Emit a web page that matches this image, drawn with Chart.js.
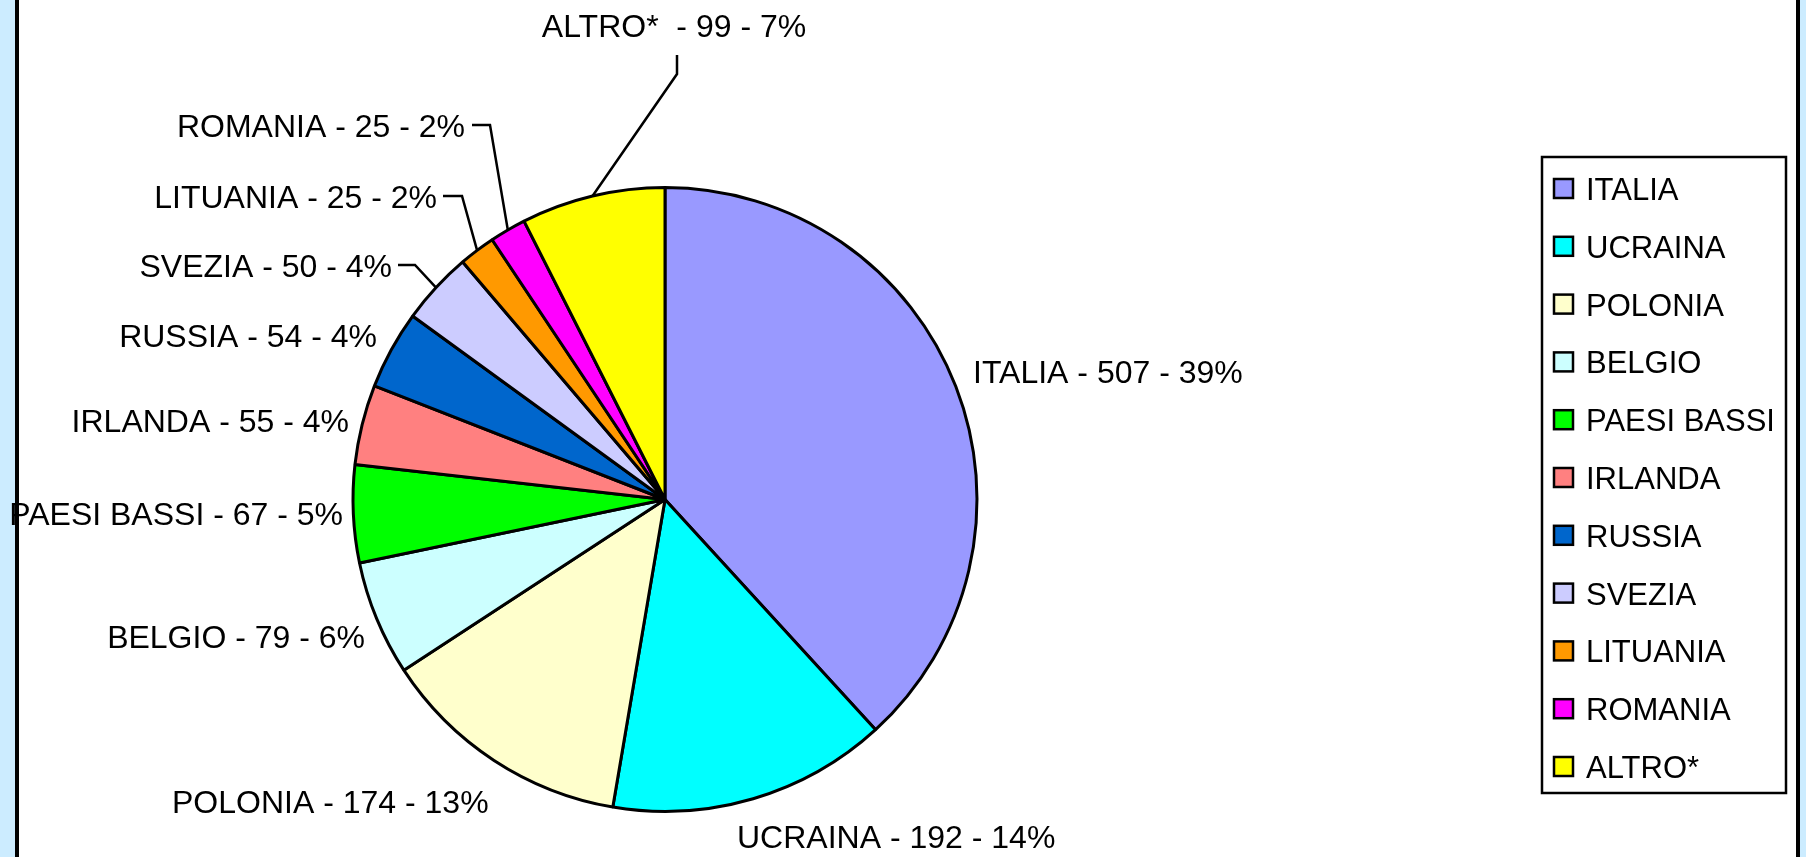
<!DOCTYPE html>
<html lang="it">
<head>
    <meta charset="UTF-8">
    <title>Ripartizione per paese</title>
    <script src="https://cdn.jsdelivr.net/npm/chart.js"></script>
    <style>
        html, body { margin: 0; padding: 0; }
        body { background: #CCECFF; width: 1806px; height: 857px; overflow: hidden; position: relative; }
        .panel {
            position: absolute; left: 15px; top: 0; width: 1785px; height: 857px;
            background: #fff; border-left: 4px solid #000; border-right: 4px solid #000;
            box-sizing: border-box;
        }
        #pie { position: absolute; left: 0; top: 0; }
    </style>
</head>
<body>
    <div class="panel"></div>
    <canvas id="pie" width="1806" height="857"></canvas>

    <script>
        // data
        const countries = ['ITALIA', 'UCRAINA', 'POLONIA', 'BELGIO', 'PAESI BASSI', 'IRLANDA',
                           'RUSSIA', 'SVEZIA', 'LITUANIA', 'ROMANIA', 'ALTRO*'];
        const counts = [507, 192, 174, 79, 67, 55, 54, 50, 25, 25, 99];
        const percents = [39, 14, 13, 6, 5, 4, 4, 4, 2, 2, 7];
        const colors = ['#9999FF', '#00FFFF', '#FFFFCC', '#CCFFFF', '#00FF00', '#FF8080',
                        '#0066CC', '#CCCCFF', '#FF9900', '#FF00FF', '#FFFF00'];

        const FONT = '32px "Liberation Sans", Arial, sans-serif';

        // where each data label sits (x, baseline, alignment) and optional leader elbow
        const labelLayout = [
            { x: 973, y: 383, align: 'left' },
            { x: 737, y: 848, align: 'left' },
            { x: 172, y: 813, align: 'left' },
            { x: 365, y: 648, align: 'right' },
            { x: 343, y: 525, align: 'right' },
            { x: 349, y: 432, align: 'right' },
            { x: 377, y: 347, align: 'right' },
            { x: 392, y: 277, align: 'right', leader: [[415, 265], [398, 265]] },
            { x: 437, y: 208, align: 'right', leader: [[462, 196], [443, 196]] },
            { x: 465, y: 137, align: 'right', leader: [[490, 125], [472, 125]] },
            { x: 674, y: 37, align: 'center', leader: [[677, 74], [677, 55]] }
        ];

        const labelsPlugin = {
            id: 'excelLabels',
            afterDatasetsDraw(chart) {
                const ctx = chart.ctx;
                const arcs = chart.getDatasetMeta(0).data;
                ctx.save();
                ctx.fillStyle = '#000';
                ctx.strokeStyle = '#000';
                ctx.lineWidth = 2.5;
                ctx.font = FONT;
                ctx.textBaseline = 'alphabetic';

                arcs.forEach((arc, i) => {
                    const p = arc.getProps(['x', 'y', 'startAngle', 'endAngle', 'outerRadius'], true);
                    const lay = labelLayout[i];
                    if (lay.leader) {
                        const mid = (p.startAngle + p.endAngle) / 2;
                        ctx.beginPath();
                        ctx.moveTo(p.x + Math.cos(mid) * p.outerRadius, p.y + Math.sin(mid) * p.outerRadius);
                        lay.leader.forEach(pt => ctx.lineTo(pt[0], pt[1]));
                        ctx.stroke();
                    }
                    ctx.textAlign = lay.align;
                    const text = countries[i] + (i === countries.length - 1 ? '  ' : ' ') +
                                 '- ' + counts[i] + ' - ' + percents[i] + '%';
                    ctx.fillText(text, lay.x, lay.y);
                });

                // legend box
                const box = { left: 1542, top: 157, right: 1786, bottom: 793 };
                ctx.lineWidth = 2.5;
                ctx.strokeRect(box.left, box.top, box.right - box.left, box.bottom - box.top);
                ctx.font = '31px "Liberation Sans", Arial, sans-serif';
                ctx.textAlign = 'left';
                const rowGap = 57.8;
                countries.forEach((name, i) => {
                    const base = 200 + i * rowGap;
                    ctx.fillStyle = colors[i];
                    ctx.fillRect(1554, base - 21, 19, 19);
                    ctx.strokeRect(1554, base - 21, 19, 19);
                    ctx.fillStyle = '#000';
                    ctx.fillText(name, 1586, base);
                });
                ctx.restore();
            }
        };

        new Chart(document.getElementById('pie'), {
            type: 'pie',
            data: {
                labels: countries,
                datasets: [{
                    data: counts,
                    backgroundColor: colors,
                    borderColor: '#000',
                    borderWidth: 3
                }]
            },
            options: {
                responsive: false,
                animation: false,
                devicePixelRatio: 1,
                radius: 312,
                layout: { padding: { left: 20, right: 496, top: 150, bottom: 8 } },
                plugins: {
                    legend: { display: false },
                    title: { display: false },
                    tooltip: { enabled: false }
                }
            },
            plugins: [labelsPlugin]
        });
    </script>
</body>
</html>
